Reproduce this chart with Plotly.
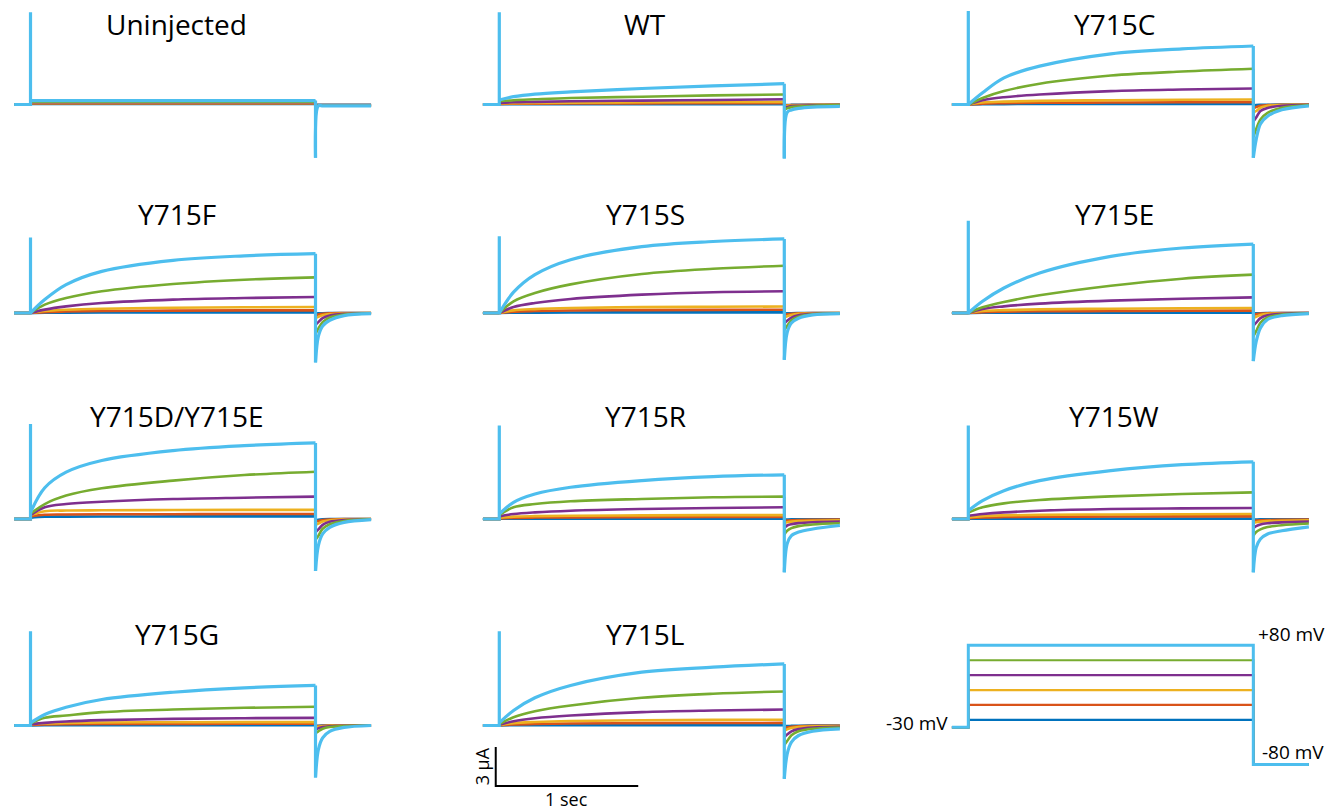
import plotly.graph_objects as go

# ---------------- data ----------------
VOLTAGES = [80, 60, 40, 20, 0, -20]          # mV, step potentials (trace order)
HOLD_MV = -30
TAIL_MV = -80
COLORS = ["#4DBEEE", "#77AC30", "#7E2F8E", "#EDB120", "#D95319", "#0072BD"]

T_PRE = -0.115
T_STEP = [0.0, 0.1, 0.25, 0.5, 1.0, 1.5, 2.0]        # s
T_TAIL = [2.0, 2.02, 2.05, 2.1, 2.2, 2.39]           # s

TITLES = ["Uninjected", "WT", "Y715C", "Y715F", "Y715S", "Y715E",
          "Y715D/Y715E", "Y715R", "Y715W", "Y715G", "Y715L"]

# current (µA) during the step, one list per voltage (80 ... -20)
UNINJ_STEP = [[0.3, 0.3, 0.3, 0.3, 0.3, 0.3, 0.3], [0.22, 0.22, 0.22, 0.22, 0.22, 0.22, 0.22],
              [0.17, 0.17, 0.17, 0.17, 0.17, 0.17, 0.17], [0.12, 0.12, 0.12, 0.12, 0.12, 0.12, 0.12],
              [0.08, 0.08, 0.08, 0.08, 0.08, 0.08, 0.08], [0.04, 0.04, 0.04, 0.04, 0.04, 0.04, 0.04]]
UNINJ_TAIL = [[-4.1, -0.1, -0.1, -0.1, -0.1, -0.1], [-0.1, -0.1, -0.1, -0.1, -0.1, -0.1],
              [-0.1, -0.1, -0.1, -0.1, -0.1, -0.1], [-0.08, -0.08, -0.08, -0.08, -0.08, -0.08],
              [-0.05, -0.05, -0.05, -0.05, -0.05, -0.05], [-0.03, -0.03, -0.03, -0.03, -0.03, -0.03]]

WT_STEP = [[0.35, 0.6, 0.8, 0.97, 1.23, 1.44, 1.6], [0.25, 0.33, 0.4, 0.5, 0.6, 0.7, 0.77],
           [0.12, 0.17, 0.2, 0.25, 0.3, 0.35, 0.4], [0.08, 0.1, 0.12, 0.14, 0.17, 0.19, 0.2],
           [0.05, 0.06, 0.07, 0.08, 0.09, 0.1, 0.1], [0.02, 0.02, 0.02, 0.03, 0.03, 0.03, 0.03]]
WT_TAIL = [[-4.15, -0.6, -0.42, -0.3, -0.2, -0.15], [-0.4, -0.3, -0.2, -0.15, -0.1, -0.05],
           [-0.25, -0.2, -0.12, -0.1, -0.07, -0.05], [-0.15, -0.1, -0.08, -0.06, -0.05, -0.03],
           [-0.1, -0.07, -0.05, -0.04, -0.03, -0.02], [-0.05, -0.04, -0.03, -0.02, -0.02, -0.01]]

C_STEP = [[0.0, 0.9, 2.05, 2.95, 3.9, 4.28, 4.5], [0.0, 0.5, 1.03, 1.6, 2.23, 2.54, 2.75],
          [0.0, 0.33, 0.56, 0.77, 1.03, 1.15, 1.23], [0.0, 0.15, 0.22, 0.28, 0.33, 0.36, 0.38],
          [0.0, 0.07, 0.1, 0.13, 0.15, 0.17, 0.18], [0.0, 0.02, 0.03, 0.04, 0.05, 0.05, 0.05]]
C_TAIL = [[-4.1, -2.7, -1.5, -0.9, -0.4, -0.1], [-2.5, -1.9, -1.15, -0.64, -0.26, -0.05],
          [-1.3, -1.0, -0.5, -0.26, -0.1, -0.02], [-0.6, -0.5, -0.25, -0.1, -0.04, -0.01],
          [-0.3, -0.2, -0.1, -0.05, -0.02, 0.0], [-0.1, -0.05, -0.03, -0.02, -0.01, 0.0]]

F_STEP = [[0.0, 1.03, 2.18, 3.2, 4.05, 4.4, 4.56], [0.0, 0.64, 1.15, 1.67, 2.23, 2.56, 2.74],
          [0.0, 0.26, 0.51, 0.77, 1.03, 1.15, 1.23], [0.0, 0.15, 0.25, 0.33, 0.4, 0.44, 0.46],
          [0.0, 0.07, 0.11, 0.15, 0.18, 0.2, 0.2], [0.0, 0.02, 0.03, 0.04, 0.05, 0.05, 0.05]]
F_TAIL = [[-3.8, -1.8, -1.0, -0.56, -0.2, -0.05], [-1.6, -1.2, -0.7, -0.35, -0.12, -0.03],
          [-0.9, -0.7, -0.4, -0.2, -0.07, -0.02], [-0.4, -0.3, -0.18, -0.08, -0.03, 0.0],
          [-0.2, -0.12, -0.07, -0.03, -0.01, 0.0], [-0.05, -0.03, -0.02, -0.01, 0.0, 0.0]]

S_STEP = [[0.0, 1.6, 2.95, 4.1, 5.1, 5.5, 5.7], [0.0, 0.9, 1.54, 2.2, 3.0, 3.4, 3.64],
          [0.0, 0.46, 0.77, 1.08, 1.41, 1.6, 1.67], [0.0, 0.2, 0.3, 0.38, 0.45, 0.48, 0.5],
          [0.0, 0.1, 0.15, 0.19, 0.22, 0.24, 0.25], [0.0, 0.02, 0.03, 0.04, 0.05, 0.05, 0.05]]
S_TAIL = [[-3.6, -1.5, -0.77, -0.4, -0.15, -0.05], [-1.3, -1.0, -0.55, -0.28, -0.1, -0.03],
          [-0.8, -0.6, -0.35, -0.17, -0.06, -0.02], [-0.35, -0.25, -0.15, -0.07, -0.02, 0.0],
          [-0.15, -0.1, -0.06, -0.03, -0.01, 0.0], [-0.05, -0.03, -0.02, -0.01, 0.0, 0.0]]

E_STEP = [[0.0, 0.9, 1.92, 3.08, 4.36, 5.0, 5.3], [0.0, 0.44, 0.85, 1.36, 2.1, 2.64, 2.95],
          [0.0, 0.31, 0.51, 0.72, 0.95, 1.1, 1.2], [0.0, 0.15, 0.22, 0.28, 0.33, 0.36, 0.38],
          [0.0, 0.07, 0.1, 0.13, 0.15, 0.17, 0.18], [0.0, 0.02, 0.02, 0.03, 0.03, 0.03, 0.03]]
E_TAIL = [[-3.7, -2.2, -1.15, -0.5, -0.2, -0.05], [-1.8, -1.4, -0.75, -0.35, -0.12, -0.03],
          [-1.0, -0.75, -0.4, -0.18, -0.06, -0.01], [-0.4, -0.3, -0.16, -0.07, -0.02, 0.0],
          [-0.15, -0.1, -0.05, -0.02, 0.0, 0.0], [-0.05, -0.03, -0.02, -0.01, 0.0, 0.0]]

DE_STEP = [[0.5, 2.4, 3.6, 4.5, 5.26, 5.64, 5.85], [0.4, 1.15, 1.8, 2.36, 2.95, 3.38, 3.64],
           [0.3, 0.9, 1.15, 1.33, 1.54, 1.64, 1.72], [0.3, 0.6, 0.65, 0.67, 0.69, 0.7, 0.7],
           [0.2, 0.33, 0.35, 0.36, 0.37, 0.38, 0.38], [0.1, 0.17, 0.18, 0.19, 0.2, 0.2, 0.2]]
DE_TAIL = [[-4.0, -2.05, -1.15, -0.64, -0.26, -0.05], [-1.6, -1.3, -0.75, -0.4, -0.15, -0.03],
           [-1.0, -0.8, -0.45, -0.22, -0.08, -0.02], [-0.45, -0.35, -0.2, -0.1, -0.03, 0.0],
           [-0.2, -0.15, -0.08, -0.04, -0.01, 0.0], [-0.1, -0.06, -0.03, -0.01, 0.0, 0.0]]

R_STEP = [[0.38, 1.28, 1.92, 2.44, 2.95, 3.26, 3.4], [0.3, 0.9, 1.15, 1.36, 1.54, 1.67, 1.72],
          [0.2, 0.38, 0.51, 0.64, 0.77, 0.85, 0.9], [0.1, 0.18, 0.22, 0.25, 0.28, 0.3, 0.3],
          [0.05, 0.09, 0.11, 0.12, 0.14, 0.15, 0.15], [0.02, 0.02, 0.03, 0.03, 0.03, 0.03, 0.03]]
R_TAIL = [[-4.1, -1.9, -1.28, -1.0, -0.77, -0.5], [-1.2, -0.9, -0.7, -0.55, -0.42, -0.33],
          [-0.7, -0.5, -0.4, -0.32, -0.25, -0.2], [-0.3, -0.25, -0.2, -0.16, -0.13, -0.1],
          [-0.15, -0.12, -0.1, -0.08, -0.06, -0.05], [-0.05, -0.04, -0.03, -0.03, -0.02, -0.02]]

W_STEP = [[0.64, 1.41, 2.18, 2.95, 3.72, 4.18, 4.4], [0.5, 0.9, 1.2, 1.46, 1.74, 1.92, 2.05],
          [0.25, 0.38, 0.51, 0.64, 0.77, 0.82, 0.85], [0.12, 0.22, 0.28, 0.32, 0.35, 0.37, 0.38],
          [0.06, 0.12, 0.15, 0.17, 0.19, 0.2, 0.2], [0.02, 0.02, 0.03, 0.03, 0.03, 0.03, 0.03]]
W_TAIL = [[-4.1, -2.2, -1.54, -1.15, -0.9, -0.6], [-1.3, -1.0, -0.8, -0.62, -0.48, -0.35],
          [-0.7, -0.55, -0.42, -0.33, -0.26, -0.2], [-0.3, -0.25, -0.2, -0.16, -0.13, -0.1],
          [-0.15, -0.12, -0.1, -0.08, -0.06, -0.05], [-0.05, -0.04, -0.03, -0.03, -0.02, -0.02]]

G_STEP = [[0.2, 0.85, 1.41, 2.0, 2.56, 2.9, 3.08], [0.15, 0.59, 0.77, 1.03, 1.23, 1.36, 1.44],
          [0.1, 0.2, 0.31, 0.41, 0.51, 0.56, 0.59], [0.08, 0.15, 0.2, 0.23, 0.25, 0.26, 0.26],
          [0.04, 0.08, 0.1, 0.11, 0.12, 0.13, 0.13], [0.01, 0.02, 0.02, 0.03, 0.03, 0.03, 0.03]]
G_TAIL = [[-4.0, -1.85, -0.95, -0.45, -0.15, 0.0], [-0.6, -0.45, -0.25, -0.12, -0.04, 0.0],
          [-0.3, -0.22, -0.12, -0.06, -0.02, 0.0], [-0.15, -0.1, -0.06, -0.03, -0.01, 0.0],
          [-0.07, -0.05, -0.03, -0.01, 0.0, 0.0], [-0.03, -0.02, -0.01, 0.0, 0.0, 0.0]]

L_STEP = [[0.2, 1.15, 2.13, 3.08, 4.1, 4.49, 4.74], [0.1, 0.64, 1.1, 1.54, 2.13, 2.44, 2.62],
          [0.05, 0.33, 0.56, 0.77, 1.03, 1.15, 1.23], [0.03, 0.18, 0.27, 0.35, 0.4, 0.43, 0.44],
          [0.02, 0.08, 0.12, 0.15, 0.18, 0.19, 0.2], [0.01, 0.02, 0.02, 0.03, 0.03, 0.03, 0.03]]
L_TAIL = [[-4.1, -2.2, -1.28, -0.77, -0.44, -0.26], [-1.5, -1.2, -0.75, -0.45, -0.25, -0.15],
          [-0.9, -0.7, -0.45, -0.28, -0.16, -0.1], [-0.4, -0.3, -0.2, -0.12, -0.07, -0.05],
          [-0.2, -0.15, -0.1, -0.06, -0.03, -0.02], [-0.05, -0.04, -0.03, -0.02, -0.01, -0.01]]

# clipped capacitive transient at step onset (µA, +80 mV trace)
SPIKE_TOP = [7.1, 7.1, 7.2, 5.8, 5.9, 7.1, 7.3, 7.2, 7.2, 7.25, 7.25]

SCALE_SEC = 1.0
SCALE_UA = 3.0

STEPS = [UNINJ_STEP, WT_STEP, C_STEP, F_STEP, S_STEP, E_STEP, DE_STEP, R_STEP, W_STEP, G_STEP, L_STEP]
TAILS = [UNINJ_TAIL, WT_TAIL, C_TAIL, F_TAIL, S_TAIL, E_TAIL, DE_TAIL, R_TAIL, W_TAIL, G_TAIL, L_TAIL]

# ---------------- layout geometry ----------------
W, H = 1342, 812
PX_PER_S = 142.5
PX_PER_UA = 13.0
PX_PER_MV = 0.745
X_RANGE = [-0.15, 2.45]
Y_RANGE = [-6.0, 7.5]
COL_T0 = [30.5, 499.3, 968.3]
ROW_BASE = [104.5, 313.0, 519.0, 725.5]
HOLD_PX = 727.3
TITLE_Y = [24, 214, 416, 634]
FONT = "Open Sans"


def xdom(col):
    return [(COL_T0[col] + X_RANGE[0] * PX_PER_S) / W, (COL_T0[col] + X_RANGE[1] * PX_PER_S) / W]


def ydom_px(row):
    top = ROW_BASE[row] - Y_RANGE[1] * PX_PER_UA
    bottom = ROW_BASE[row] - Y_RANGE[0] * PX_PER_UA
    return top, bottom


fig = go.Figure()
layout = {}
annotations = []

for k in range(12):
    row, col = divmod(k, 3)
    n = k + 1
    top, bottom = ydom_px(row)
    if k < 11:
        yr = Y_RANGE
    else:
        ytop = HOLD_MV + (HOLD_PX - top) / PX_PER_MV
        yr = [ytop - (bottom - top) / PX_PER_MV, ytop]
    layout[f"xaxis{n}"] = dict(domain=xdom(col), range=X_RANGE, visible=False,
                               anchor=f"y{n}", fixedrange=True)
    layout[f"yaxis{n}"] = dict(domain=[1 - bottom / H, 1 - top / H], range=yr, visible=False,
                               anchor=f"x{n}", fixedrange=True)

# current traces
for p in range(11):
    n = p + 1
    xa, ya = f"x{n}", f"y{n}"
    step, tail = STEPS[p], TAILS[p]
    for i in reversed(range(len(VOLTAGES))):
        c = COLORS[i]
        w = 3.2 if i == 0 else 2.6
        if i == 0:
            cx = [T_PRE, 0.0, 0.0, 0.0, None, T_STEP[-1], T_TAIL[0]]
            cy = [0.0, 0.0, SPIKE_TOP[p], step[i][0], None, step[i][-1], tail[i][0]]
        else:
            cx = [T_PRE, 0.0, 0.0, None, T_STEP[-1], T_TAIL[0]]
            cy = [0.0, 0.0, step[i][0], None, step[i][-1], tail[i][0]]
        fig.add_trace(go.Scatter(x=cx, y=cy, mode="lines", xaxis=xa, yaxis=ya,
                                 line=dict(color=c, width=w), hoverinfo="skip", showlegend=False))
        fig.add_trace(go.Scatter(x=T_STEP, y=step[i], mode="lines", xaxis=xa, yaxis=ya,
                                 line=dict(color=c, width=w, shape="spline", smoothing=1.0),
                                 hoverinfo="skip", showlegend=False))
        fig.add_trace(go.Scatter(x=T_TAIL, y=tail[i], mode="lines", xaxis=xa, yaxis=ya,
                                 line=dict(color=c, width=w, shape="spline", smoothing=0.9),
                                 hoverinfo="skip", showlegend=False))
    r, c = divmod(p, 3)
    annotations.append(dict(text=TITLES[p], x=(COL_T0[c] + 146) / W, y=1 - TITLE_Y[r] / H,
                            xref="paper", yref="paper", xanchor="center", yanchor="middle",
                            showarrow=False, font=dict(family=FONT, size=28, color="black")))

# voltage protocol panel
for i in reversed(range(len(VOLTAGES))):
    v = VOLTAGES[i]
    fig.add_trace(go.Scatter(x=[T_PRE, 0.0, 0.0, 2.0, 2.0, T_TAIL[-1]],
                             y=[HOLD_MV, HOLD_MV, v, v, TAIL_MV, TAIL_MV],
                             mode="lines", xaxis="x12", yaxis="y12",
                             line=dict(color=COLORS[i], width=3.0 if i == 0 else 2.2),
                             hoverinfo="skip", showlegend=False))
vfont = dict(family=FONT, size=19, color="black")
annotations += [
    dict(text="-30 mV", x=-0.13, y=-24, xref="x12", yref="y12", xanchor="right",
         yanchor="middle", showarrow=False, font=vfont),
    dict(text="+80 mV", x=2.02, y=95, xref="x12", yref="y12", xanchor="left",
         yanchor="middle", showarrow=False, font=vfont),
    dict(text="-80 mV", x=2.05, y=-63, xref="x12", yref="y12", xanchor="left",
         yanchor="middle", showarrow=False, font=vfont),
]

# scale bar (in Y715L panel coordinates)
sb_x0, sb_y0 = -0.025, -4.65
fig.add_trace(go.Scatter(x=[sb_x0, sb_x0, sb_x0 + SCALE_SEC],
                         y=[sb_y0 + SCALE_UA, sb_y0, sb_y0], mode="lines",
                         xaxis="x11", yaxis="y11", line=dict(color="black", width=2),
                         hoverinfo="skip", showlegend=False))
sfont = dict(family=FONT, size=18, color="black")
annotations += [
    dict(text="3 µA", x=sb_x0 - 0.09, y=sb_y0 + SCALE_UA / 2, xref="x11", yref="y11",
         textangle=-90, xanchor="center", yanchor="middle", showarrow=False, font=sfont),
    dict(text="1 sec", x=sb_x0 + SCALE_SEC / 2, y=sb_y0 - 1.0, xref="x11", yref="y11",
         xanchor="center", yanchor="middle", showarrow=False, font=sfont),
]

fig.update_layout(width=W, height=H, margin=dict(l=0, r=0, t=0, b=0),
                  paper_bgcolor="white", plot_bgcolor="rgba(0,0,0,0)",
                  showlegend=False, annotations=annotations, **layout)
fig.write_html("out.html", config={"displayModeBar": False})
